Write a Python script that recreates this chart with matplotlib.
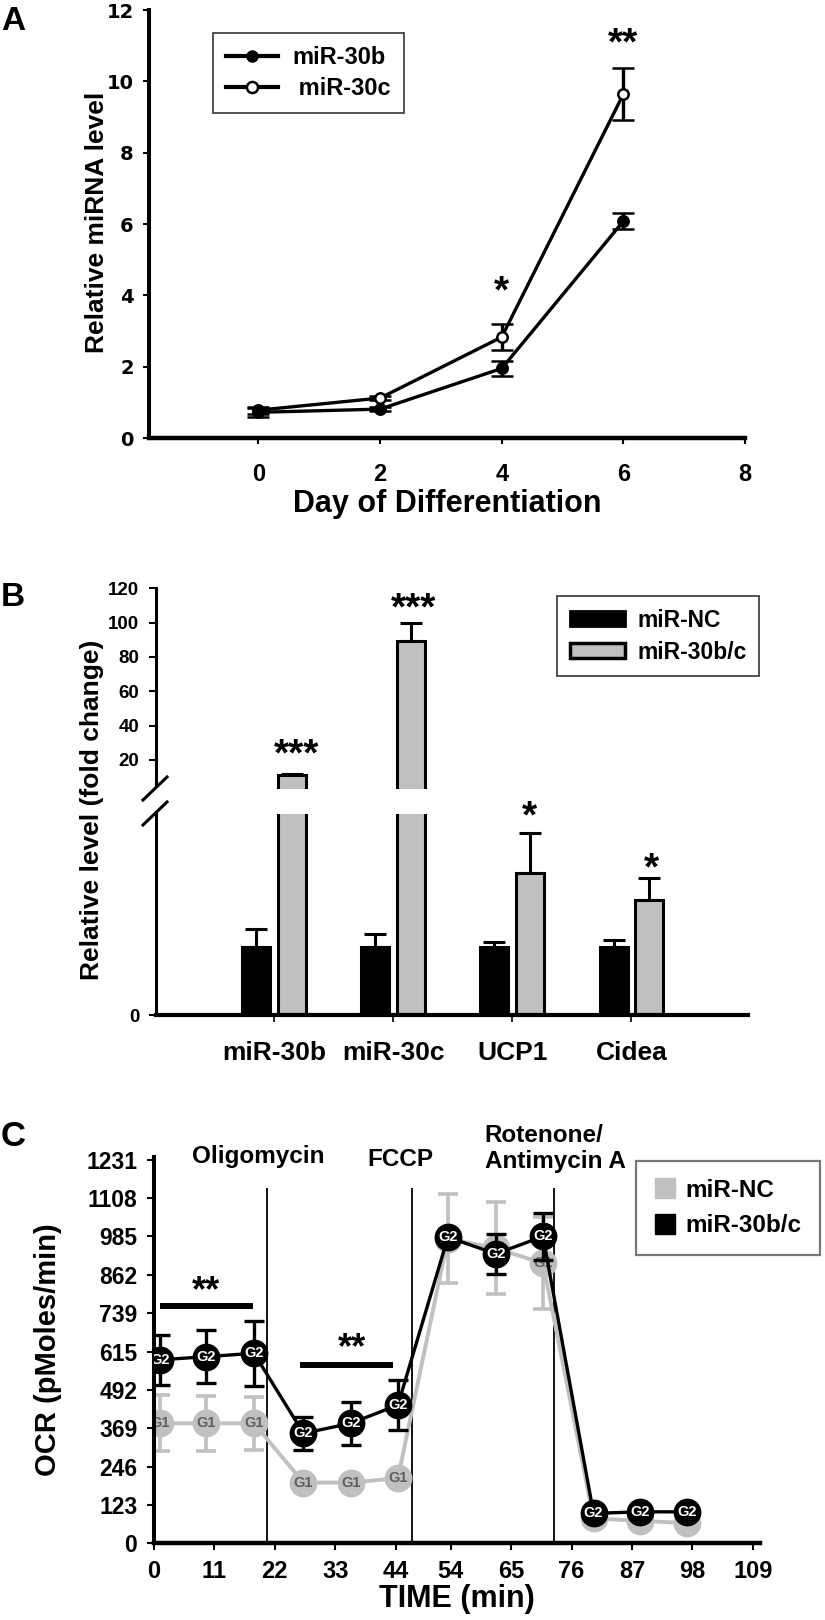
import matplotlib
matplotlib.use('Agg')
import matplotlib.pyplot as plt
from matplotlib.lines import Line2D
from matplotlib.patches import Patch

plt.rcParams['font.family'] = ['Liberation Sans', 'DejaVu Sans']
plt.rcParams['font.weight'] = 'bold'
plt.rcParams['axes.labelweight'] = 'bold'
plt.rcParams['axes.linewidth'] = 2.2

# ---------------- data ----------------
# Panel A
days = [0, 2, 4, 6]
mir30b_level = [0.72, 0.81, 1.95, 6.08]
mir30b_err = [0.13, 0.06, 0.20, 0.22]
mir30c_level = [0.78, 1.12, 2.83, 9.64]
mir30c_err = [0.10, 0.05, 0.37, 0.72]
a_xticks = [0, 2, 4, 6, 8]
a_yticks = [0, 2, 4, 6, 8, 10, 12]

# Panel B
genes = ['miR-30b', 'miR-30c', 'UCP1', 'Cidea']
nc_fold = [1.0, 1.0, 1.0, 1.0]
nc_fold_err = [0.26, 0.19, 0.07, 0.10]
mir_fold = [11.2, 89.3, 2.08, 1.69]
mir_fold_err = [0.5, 10.3, 0.59, 0.31]
b_upper_yticks = [20, 40, 60, 80, 100, 120]
b_stars = ['***', '***', '*', '*']

# Panel C
time_min = [1.1, 9.5, 18.2, 27.2, 35.8, 44.4, 53.5, 62.2, 70.8, 80.0, 88.5, 97.1]
ocr_mir = [589, 599, 610, 353, 385, 444, 983, 929, 985, 96, 101, 101]
ocr_mir_err = [80, 85, 105, 52, 70, 80, 25, 64, 75, 8, 8, 8]
ocr_nc = [385, 385, 385, 195, 195, 209, 978, 947, 899, 80, 72, 65]
ocr_nc_err = [90, 88, 85, 12, 12, 12, 142, 147, 148, 8, 8, 8]
c_yticks = [0, 123, 246, 369, 492, 615, 739, 862, 985, 1108, 1231]
c_xticks = [0, 11, 22, 33, 44, 54, 65, 76, 87, 98, 109]
injection_times = [20.5, 47.0, 72.8]
injection_labels = ['Oligomycin', 'FCCP', 'Rotenone/\nAntimycin A']

W, H = 825, 1620
fig = plt.figure(figsize=(W / 100, H / 100), dpi=100)


def rect(l, t, r, b):
    return [l / W, 1 - b / H, (r - l) / W, (b - t) / H]


def fxy(x, y):
    return (x / W, 1 - y / H)


GRAY = '#c0c0c0'

# ---------------- Panel A ----------------
axA = fig.add_axes(rect(149, 10, 745, 438))
axA.errorbar(days, mir30c_level, yerr=mir30c_err, color='k', lw=2.4,
             marker='o', ms=7.5, mfc='white', mec='k', mew=1.8,
             capsize=8, elinewidth=2.4, capthick=2.4, zorder=3)
axA.errorbar(days, mir30b_level, yerr=mir30b_err, color='k', lw=2.4,
             marker='o', ms=7.5, mfc='k', mec='k', mew=1.8,
             capsize=8, elinewidth=2.4, capthick=2.4, zorder=4)
axA.set_xlim(-1.8, 8)
axA.set_ylim(0, 12)
axA.set_xticks(a_xticks)
axA.set_yticks(a_yticks)
for s in ['top', 'right']:
    axA.spines[s].set_visible(False)
axA.spines['left'].set_linewidth(2.9)
axA.spines['bottom'].set_linewidth(3.2)
axA.tick_params(axis='y', direction='out', length=4, width=1.5, labelsize=14,
                pad=7, labelfontfamily='DejaVu Sans')
axA.tick_params(axis='x', direction='out', length=4, width=1.5, labelsize=17, pad=14)
axA.set_xlabel('Day of Differentiation', fontsize=22, labelpad=2)
fig.text(*fxy(97, 222), 'Relative miRNA level', rotation=90, ha='center',
         va='center', fontsize=19)
axA.annotate('*', xy=(4, 4.43), xytext=(0, -16), textcoords='offset points',
             ha='center', va='baseline', fontsize=28)
axA.annotate('**', xy=(6, 11.38), xytext=(0, -16), textcoords='offset points',
             ha='center', va='baseline', fontsize=28)
hA = [Line2D([], [], color='k', lw=3, marker='o', ms=8, mfc='k', mec='k'),
      Line2D([], [], color='k', lw=3, marker='o', ms=8, mfc='white', mec='k', mew=1.8)]
legA = axA.legend(hA, ['miR-30b', ' miR-30c'], loc='upper left',
                  bbox_to_anchor=fxy(213, 33), bbox_transform=fig.transFigure,
                  borderaxespad=0, fontsize=17, frameon=True, fancybox=False,
                  handlelength=2.2, handletextpad=0.6, labelspacing=0.35,
                  borderpad=0.55)
legA.get_frame().set_edgecolor('k')
legA.get_frame().set_linewidth(1.2)
fig.text(*fxy(13, 21), 'A', ha='center', va='center', fontsize=24)

# ---------------- Panel B ----------------
axBt = fig.add_axes(rect(156, 588.3, 748, 789))
axBb = fig.add_axes(rect(156, 814, 748, 1015))
xpos = list(range(len(genes)))
off = 0.149
bw = 0.235
for ax in (axBt, axBb):
    ax.bar([x - off for x in xpos], nc_fold, width=bw, color='k', edgecolor='k',
           lw=2.2, zorder=2)
    ax.bar([x + off for x in xpos], mir_fold, width=bw, color=GRAY, edgecolor='k',
           lw=2.2, zorder=2)
    ax.set_xlim(-0.99, 3.98)
    for s in ['top', 'right']:
        ax.spines[s].set_visible(False)
    ax.spines['left'].set_linewidth(2.2)
axBb.errorbar([x - off for x in xpos], nc_fold,
              yerr=[[0] * 4, nc_fold_err], fmt='none', ecolor='k',
              elinewidth=2.2, capsize=8, capthick=2.2, zorder=1)
axBb.errorbar([x + off for x in xpos], mir_fold,
              yerr=[[0] * 4, mir_fold_err], fmt='none', ecolor='k',
              elinewidth=2.2, capsize=8, capthick=2.2, zorder=1)
big = [i for i, v in enumerate(mir_fold) if v > 5]
axBt.errorbar([xpos[i] + off for i in big], [mir_fold[i] for i in big],
              yerr=[[0] * len(big), [mir_fold_err[i] for i in big]],
              fmt='none', ecolor='k', elinewidth=2.2, capsize=8,
              capthick=2.2, zorder=1)
axBt.set_ylim(3.04, 120)
axBt.set_yticks(b_upper_yticks)
axBt.spines['bottom'].set_visible(False)
axBt.spines['left'].set_bounds(5.4, 120)
axBt.tick_params(axis='x', bottom=False, labelbottom=False)
axBt.tick_params(axis='y', direction='out', length=5, width=1.5, labelsize=13.5, pad=7)
axBb.set_ylim(0, 2.943)
axBb.set_yticks([0])
axBb.spines['bottom'].set_linewidth(3.0)
axBb.set_xticks(xpos)
axBb.set_xticklabels(genes)
axBb.tick_params(axis='y', direction='out', length=5, width=1.5, labelsize=13.5, pad=7)
axBb.tick_params(axis='x', direction='out', length=5, width=1.2, labelsize=19, pad=13.5)
# axis break marks
for (x0, y0, x1, y1) in [(143, 800, 167, 777), (143, 825, 167, 802)]:
    fig.add_artist(Line2D([x0 / W, x1 / W], [1 - y0 / H, 1 - y1 / H], color='k',
                          lw=2.2, transform=fig.transFigure))
fig.text(*fxy(92, 810), 'Relative level (fold change)', rotation=90,
         ha='center', va='center', fontsize=19)
axBt.annotate(b_stars[0], xy=(0 + off + 0.04, 29.8), xytext=(0, -16),
              textcoords='offset points', ha='center', va='baseline', fontsize=28)
axBt.annotate(b_stars[1], xy=(1 + off + 0.02, 114.6), xytext=(0, -16),
              textcoords='offset points', ha='center', va='baseline', fontsize=28)
axBb.annotate(b_stars[2], xy=(2 + off, 3.07), xytext=(0, -16),
              textcoords='offset points', ha='center', va='baseline', fontsize=28,
              annotation_clip=False)
axBb.annotate(b_stars[3], xy=(3 + off + 0.02, 2.31), xytext=(0, -16),
              textcoords='offset points', ha='center', va='baseline', fontsize=28)
hB = [Patch(facecolor='k', edgecolor='k', lw=2),
      Patch(facecolor=GRAY, edgecolor='k', lw=2.5)]
legB = axBt.legend(hB, ['miR-NC', 'miR-30b/c'], loc='upper left',
                   bbox_to_anchor=fxy(557, 596), bbox_transform=fig.transFigure,
                   borderaxespad=0, fontsize=16.5, frameon=True, fancybox=False,
                   handlelength=2.4, handleheight=0.65, handletextpad=0.55,
                   labelspacing=0.4, borderpad=0.55)
legB.get_frame().set_edgecolor('k')
legB.get_frame().set_linewidth(1.2)
fig.text(*fxy(13, 598), 'B', ha='center', va='center', fontsize=24)

# ---------------- Panel C ----------------
axC = fig.add_axes(rect(154, 1157, 760, 1543.3))
axC.set_xlim(0, 110.3)
axC.set_ylim(0, 1240)
axC.vlines(injection_times, 0, 1141, color='k', lw=1.3, zorder=1)
axC.errorbar(time_min, ocr_nc, yerr=ocr_nc_err, fmt='none', ecolor=GRAY,
             elinewidth=2.6, capsize=7, capthick=2.6, zorder=1.5)
axC.plot(time_min, ocr_nc, color=GRAY, lw=2.8, marker='o', ms=19,
         mfc=GRAY, mec=GRAY, zorder=2)
for x, y, yb in zip(time_min, ocr_nc, ocr_mir):
    if abs(yb - y) > 60:
        axC.text(x, y, 'G1', ha='center', va='center', fontsize=10.5,
                 color='#5e5e5e', zorder=2.5, clip_on=True)
axC.errorbar(time_min, ocr_mir, yerr=ocr_mir_err, fmt='none', ecolor='k',
             elinewidth=2.4, capsize=7, capthick=2.4, zorder=2.8)
axC.plot(time_min, ocr_mir, color='k', lw=2.4, marker='o', ms=19,
         mfc='k', mec='k', zorder=3)
for x, y in zip(time_min, ocr_mir):
    axC.text(x, y, 'G2', ha='center', va='center', fontsize=10.5,
             color='white', zorder=3.5, clip_on=True)
axC.set_xticks(c_xticks)
axC.set_yticks(c_yticks)
for s in ['top', 'right']:
    axC.spines[s].set_visible(False)
axC.spines['left'].set_linewidth(2.9)
axC.spines['bottom'].set_linewidth(3.2)
axC.tick_params(axis='y', direction='out', length=5, width=1.5, labelsize=16.5, pad=7)
axC.tick_params(axis='x', direction='out', length=5, width=1.5, labelsize=17, pad=7)
axC.set_xlabel('TIME (min)', fontsize=22, labelpad=1)
fig.text(*fxy(48, 1350), 'OCR (pMoles/min)', rotation=90, ha='center',
         va='center', fontsize=21)
# significance bars
axC.hlines([762, 572], [1.1, 26.5], [18.0, 43.5], color='k', lw=4.3, zorder=4)
axC.annotate('**', xy=(9.5, 845), xytext=(0, -15), textcoords='offset points',
             ha='center', va='baseline', fontsize=26)
axC.annotate('**', xy=(36.0, 660), xytext=(0, -15), textcoords='offset points',
             ha='center', va='baseline', fontsize=26)
# injection labels
axC.text(18.9, 1240, injection_labels[0], ha='center', va='center', fontsize=17.5,
         clip_on=False)
axC.text(44.8, 1231, injection_labels[1], ha='center', va='center', fontsize=17.5,
         clip_on=False)
axC.text(60.2, 1267, injection_labels[2], ha='left', va='center', fontsize=17.5,
         clip_on=False, linespacing=1.2)
hC = [Line2D([], [], ls='none', marker='s', ms=14, mfc=GRAY, mec=GRAY),
      Line2D([], [], ls='none', marker='s', ms=14, mfc='k', mec='k')]
legC = axC.legend(hC, ['miR-NC', 'miR-30b/c'], loc='upper left',
                  bbox_to_anchor=fxy(636, 1161), bbox_transform=fig.transFigure,
                  borderaxespad=0, fontsize=17.5, frameon=True, fancybox=False,
                  handlelength=0.9, handletextpad=0.4, labelspacing=0.5,
                  borderpad=0.74)
legC.get_frame().set_edgecolor('#555555')
legC.get_frame().set_linewidth(1.6)
fig.text(*fxy(13, 1136), 'C', ha='center', va='center', fontsize=25)

fig.savefig('out.png', dpi=100)
